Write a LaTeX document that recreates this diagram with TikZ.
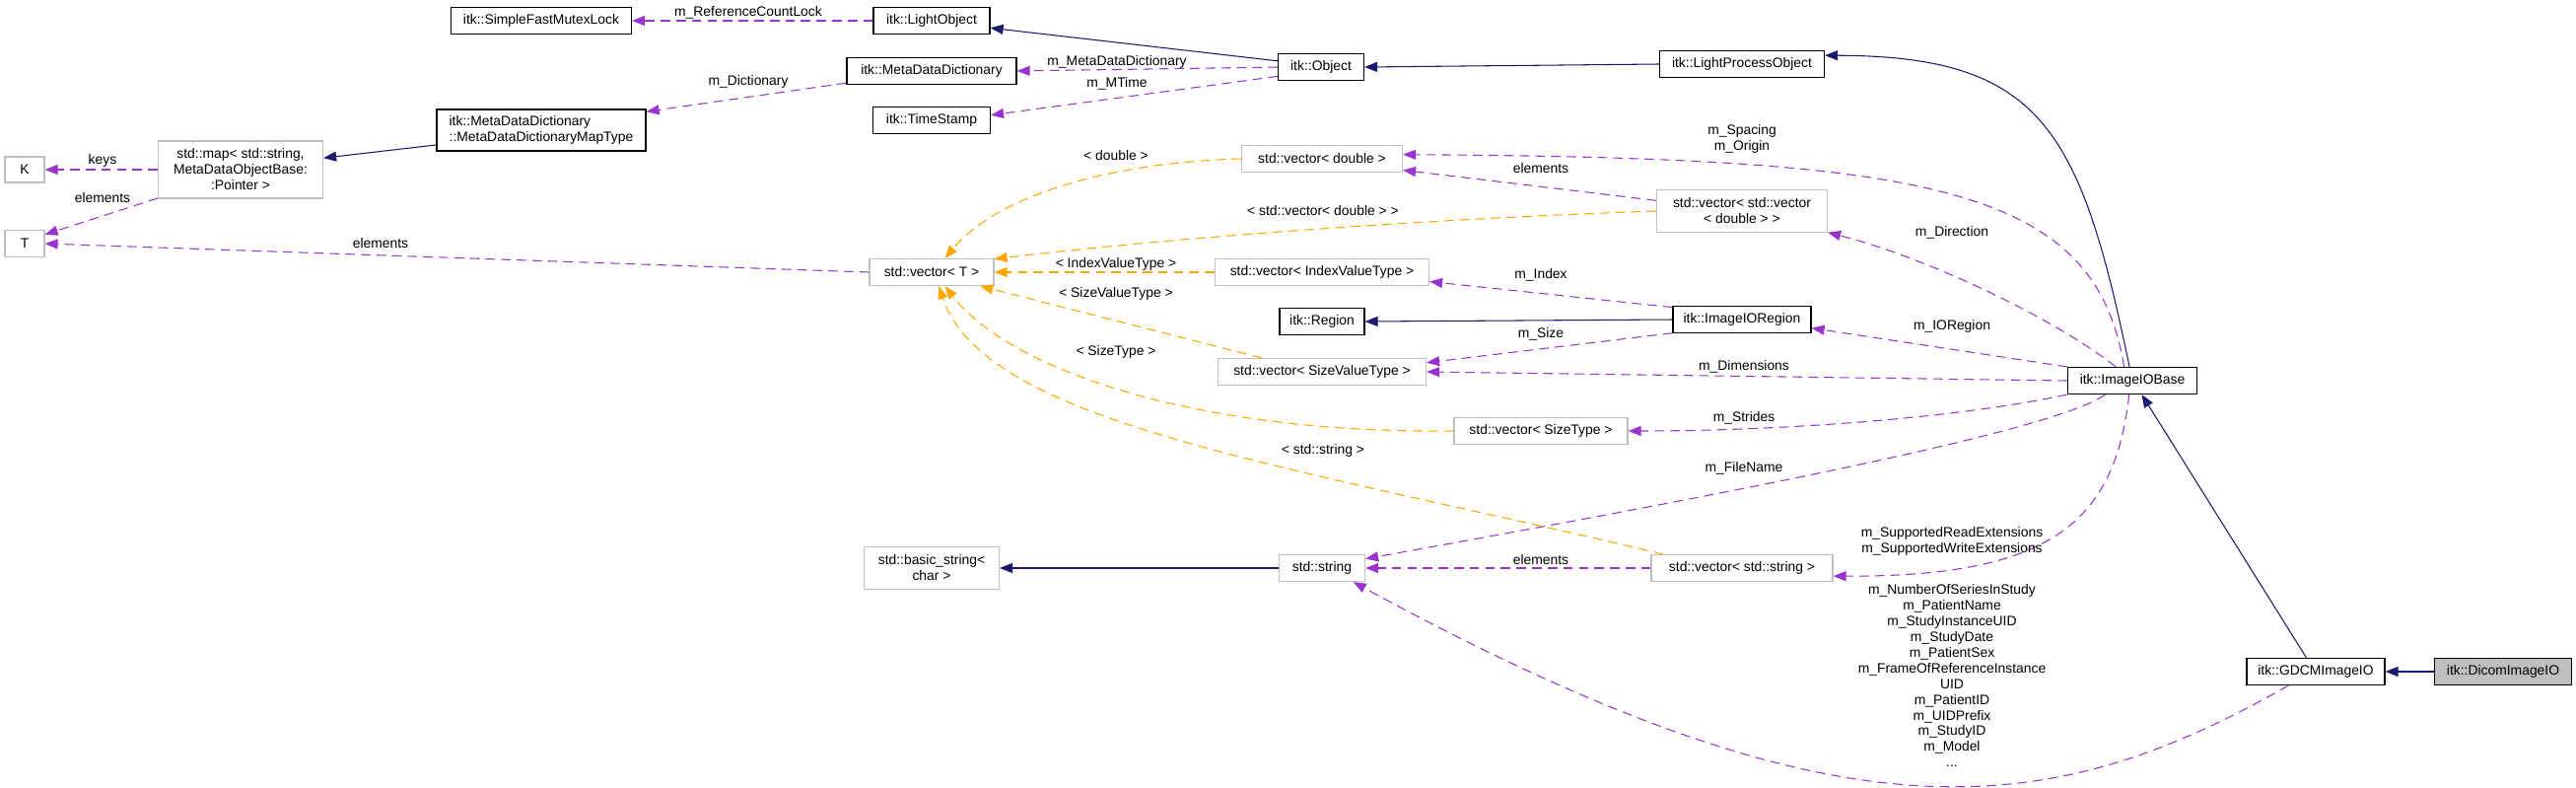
\documentclass[tikz,border=0pt]{standalone}
\usepackage{fontspec}
\setmainfont{Liberation Sans}
\usetikzlibrary{arrows.meta}
\definecolor{navyline}{HTML}{191970}
\definecolor{memline}{HTML}{9A32CD}
\definecolor{tplline}{HTML}{FFA500}

\begin{document}
\begin{tikzpicture}[x=0.02cm, y=-0.02cm,
    font=\fontsize{7.9}{9.1}\selectfont,
    cls/.style={draw=black, fill=white, line width=0.7pt, inner sep=0pt, minimum height=0.54cm},
    tpl/.style={cls, draw=black!25},
    cur/.style={cls, fill=black!25},
    lbl/.style={inner sep=0pt, align=center},
    tip/.style={-{Triangle[length=0.26cm,width=0.2cm]}},
    inh/.style={tip, draw=navyline, line width=0.6pt},
    mem/.style={tip, draw=memline, line width=0.6pt, dash pattern=on 5.5pt off 3.5pt},
    tmpl/.style={tip, draw=tplline, line width=0.6pt, dash pattern=on 5.5pt off 3.5pt}]
    \useasboundingbox (0,0) rectangle (2613,798);

    % クラス
    \node[tpl, minimum width=0.8cm, minimum height=0.52cm] (K) at (25,172) {K};
    \node[tpl, minimum width=0.8cm] (T) at (25,247) {T};
    \node[tpl, minimum width=3.34cm, minimum height=1.16cm, align=center] (stdmap) at (244,172) {std::map< std::string,\\ MetaDataObjectBase:\\ :Pointer >};
    \node[cls, minimum width=3.66cm] (sfml) at (549,21) {itk::SimpleFastMutexLock};
    \node[cls, minimum width=4.24cm, minimum height=0.84cm, align=left] (maptype) at (549,132) {itk::MetaDataDictionary\\::MetaDataDictionaryMapType};
    \node[cls, minimum width=2.36cm] (lobj) at (945,21) {itk::LightObject};
    \node[cls, minimum width=3.44cm] (mdd) at (945,72) {itk::MetaDataDictionary};
    \node[cls, minimum width=2.38cm] (tstamp) at (945,122) {itk::TimeStamp};
    \node[tpl, minimum width=2.52cm] (vecT) at (945,276) {std::vector< T >};
    \node[tpl, minimum width=2.74cm, minimum height=0.86cm, align=center] (basicstr) at (945,576) {std::basic\_string<\\char >};
    \node[cls, minimum width=1.74cm] (obj) at (1340,68) {itk::Object};
    \node[tpl, minimum width=3.26cm] (vecD) at (1341,161) {std::vector< double >};
    \node[tpl, minimum width=4.34cm] (vecIdx) at (1341,276) {std::vector< IndexValueType >};
    \node[cls, minimum width=1.72cm] (region) at (1341,326) {itk::Region};
    \node[tpl, minimum width=4.22cm] (vecSV) at (1341,377) {std::vector< SizeValueType >};
    \node[tpl, minimum width=1.74cm] (str) at (1341,576) {std::string};
    \node[cls, minimum width=3.34cm] (lpo) at (1767,65) {itk::LightProcessObject};
    \node[tpl, minimum width=3.46cm, minimum height=0.86cm, align=center] (vecVD) at (1767,214) {std::vector< std::vector\\< double > >};
    \node[cls, minimum width=2.8cm] (iior) at (1767,324) {itk::ImageIORegion};
    \node[tpl, minimum width=3.52cm] (vecST) at (1563,437) {std::vector< SizeType >};
    \node[tpl, minimum width=3.68cm] (vecStr) at (1767,576) {std::vector< std::string >};
    \node[cls, minimum width=2.62cm] (iiobase) at (2163,386) {itk::ImageIOBase};
    \node[cls, minimum width=2.8cm] (gdcm) at (2349,681) {itk::GDCMImageIO};
    \node[cur, minimum width=2.78cm] (dicom) at (2539,681) {itk::DicomImageIO};

    % 継承
    \draw[inh] (obj.172) -- (lobj.353);
    \draw[inh] (lpo.west) -- (obj.east);
    \draw[inh] (iiobase.102) .. controls (2110,130) and (2070,57) .. (lpo.6);
    \draw[inh] (maptype.188) -- (stdmap.8);
    \draw[inh] (iior.west) -- (region.east);
    \draw[inh] (str.west) -- (basicstr.east);
    \draw[inh] (gdcm.124) -- (iiobase.304);
    \draw[inh] (dicom.west) -- (gdcm.east);

    % メンバ
    \draw[mem] (lobj.west) -- (sfml.east);
    \draw[mem] (obj.west) -- (mdd.east);
    \draw[mem] (obj.192) -- (tstamp.5);
    \draw[mem] (mdd.188) -- (maptype.10);
    \draw[mem] (stdmap.west) -- (K.east);
    \draw[mem] (stdmap.199) -- (T.24);
    \draw[mem] (vecT.west) -- (T.east);
    \draw[mem] (iiobase.121) .. controls (2125,190) and (1960,160) .. (vecD.3);
    \draw[mem] (vecVD.173) -- (vecD.352);
    \draw[mem] (iiobase.140) .. controls (2080,320) and (1950,260) .. (vecVD.346);
    \draw[mem] (iior.170) -- (vecIdx.355);
    \draw[mem] (iior.191) -- (vecSV.5);
    \draw[mem] (iiobase.168) -- (iior.353);
    \draw[mem] (iiobase.west) -- (vecSV.east);
    \draw[mem] (iiobase.192) .. controls (1980,425) and (1800,437) .. (vecST.east);
    \draw[mem] (iiobase.207) .. controls (2080,440) and (1700,510) .. (str.12);
    \draw[mem] (iiobase.257) .. controls (2145,530) and (2080,585) .. (vecStr.355);
    \draw[mem] (vecStr.west) -- (str.east);
    \draw[mem] (gdcm.207) .. controls (2080,832) and (1872,862) .. (str.336);

    % テンプレート
    \draw[tmpl] (vecD.west) .. controls (1120,165) and (1010,200) .. (vecT.46);
    \draw[tmpl] (vecVD.west) .. controls (1450,222) and (1200,240) .. (vecT.12);
    \draw[tmpl] (vecIdx.west) -- (vecT.east);
    \draw[tmpl] (vecSV.167) -- (vecT.344);
    \draw[tmpl] (vecST.west) .. controls (1200,440) and (1020,370) .. (vecT.314);
    \draw[tmpl] (vecStr.170) .. controls (1300,470) and (1000,430) .. (vecT.297);

    % ラベル
    \node[lbl] (lKeys) at (104,163) {keys};
    \node[lbl] (lElemMap) at (104,201) {elements};
    \node[lbl] (lElemVec) at (386,247) {elements};
    \node[lbl] (lRefLock) at (759,13) {m\_ReferenceCountLock};
    \node[lbl] (lDict) at (759,83) {m\_Dictionary};
    \node[lbl] (lMDD) at (1133,63) {m\_MetaDataDictionary};
    \node[lbl] (lMTime) at (1133,85) {m\_MTime};
    \node[lbl] (lDbl) at (1132,158) {< double >};
    \node[lbl] (lVD) at (1342,214) {< std::vector< double > >};
    \node[lbl] (lIdx) at (1132,268) {< IndexValueType >};
    \node[lbl] (lSV) at (1132,298) {< SizeValueType >};
    \node[lbl] (lST) at (1132,357) {< SizeType >};
    \node[lbl] (lStr) at (1342,457) {< std::string >};
    \node[lbl] (lSpacing) at (1767,141) {m\_Spacing\\m\_Origin};
    \node[lbl] (lElemD) at (1563,171) {elements};
    \node[lbl] (lDir) at (1980,236) {m\_Direction};
    \node[lbl] (lIndex) at (1563,279) {m\_Index};
    \node[lbl] (lSize) at (1563,339) {m\_Size};
    \node[lbl] (lIOR) at (1980,331) {m\_IORegion};
    \node[lbl] (lDim) at (1769,372) {m\_Dimensions};
    \node[lbl] (lStrides) at (1769,424) {m\_Strides};
    \node[lbl] (lFile) at (1769,475) {m\_FileName};
    \node[lbl] (lExt) at (1980,549) {m\_SupportedReadExtensions\\m\_SupportedWriteExtensions};
    \node[lbl] (lElemS) at (1563,568) {elements};
    \node[lbl] (lDicom) at (1980,685) {m\_NumberOfSeriesInStudy\\m\_PatientName\\m\_StudyInstanceUID\\m\_StudyDate\\m\_PatientSex\\m\_FrameOfReferenceInstance\\UID\\m\_PatientID\\m\_UIDPrefix\\m\_StudyID\\m\_Model\\...};
\end{tikzpicture}
\end{document}
